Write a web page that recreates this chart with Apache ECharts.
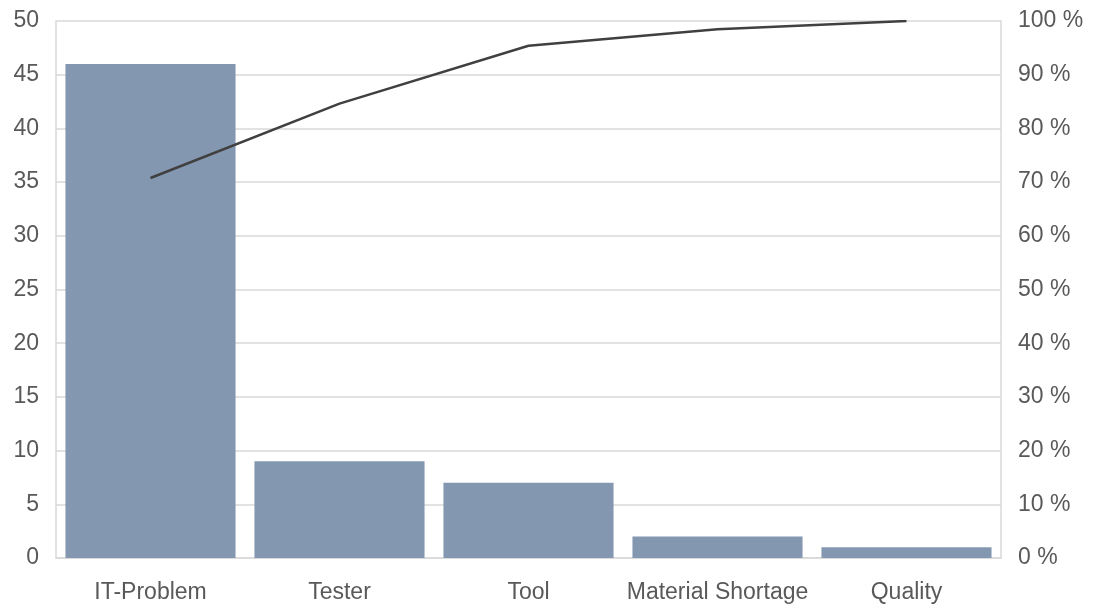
<!DOCTYPE html>
<html>
<head>
<meta charset="utf-8">
<script src="https://cdn.jsdelivr.net/npm/echarts@6/dist/echarts.min.js"></script>
<style>
  html, body { margin: 0; padding: 0; background: #fff; }
  #chart { width: 1097px; height: 606px; }
</style>
</head>
<body>
<div id="chart"></div>
<script>
// Downtime causes, sorted descending (Pareto)
const categories = ['IT-Problem', 'Tester', 'Tool', 'Material Shortage', 'Quality'];
const counts = [46, 9, 7, 2, 1];

// Cumulative share in percent
const total = counts.reduce((a, b) => a + b, 0);
const cumulative = [];
let running = 0;
for (const c of counts) {
  running += c;
  cumulative.push(running / total * 100);
}

const textColor = '#595959';
const gridColor = '#d9d9d9';
const font = 'Liberation Sans, Arial, sans-serif';
const fontSize = 23;

const chart = echarts.init(document.getElementById('chart'), null, { renderer: 'canvas' });
chart.setOption({
  animation: false,
  backgroundColor: '#fff',
  grid: { left: 56, right: 96, top: 21, bottom: 48, containLabel: false },
  xAxis: {
    type: 'category',
    data: categories,
    axisLine: { show: true, lineStyle: { color: gridColor, width: 1.5 } },
    axisTick: { show: false },
    axisLabel: { color: textColor, fontSize: fontSize, fontFamily: font, margin: 23, interval: 0 }
  },
  yAxis: [
    {
      type: 'value', min: 0, max: 50, interval: 5,
      axisLine: { show: true, lineStyle: { color: gridColor, width: 1.5 } },
      axisTick: { show: false },
      splitLine: { lineStyle: { color: gridColor, width: 1.5 } },
      axisLabel: { color: textColor, fontSize: fontSize, fontFamily: font, margin: 17 }
    },
    {
      type: 'value', min: 0, max: 100, interval: 10,
      position: 'right',
      axisLine: { show: true, lineStyle: { color: gridColor, width: 1.5 } },
      axisTick: { show: false },
      splitLine: { show: false },
      axisLabel: { color: textColor, fontSize: fontSize, fontFamily: font, margin: 17, formatter: '{value} %' }
    }
  ],
  series: [
    {
      type: 'bar',
      data: counts,
      barCategoryGap: '10%',
      itemStyle: { color: '#8497b0' },
      yAxisIndex: 0
    },
    {
      type: 'line',
      data: cumulative,
      yAxisIndex: 1,
      showSymbol: false,
      symbol: 'none',
      lineStyle: { color: '#404040', width: 2.5 }
    }
  ]
});
</script>
</body>
</html>
